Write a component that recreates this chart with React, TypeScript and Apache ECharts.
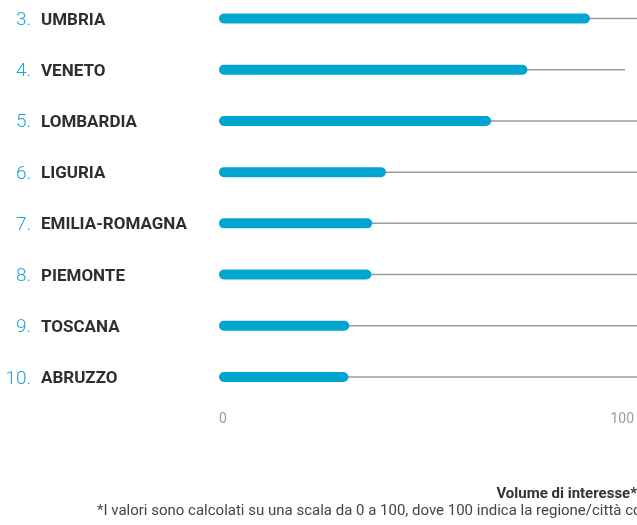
import React, { useEffect, useRef } from "react";
import * as echarts from "echarts";

const ranks = ["3.", "4.", "5.", "6.", "7.", "8.", "9.", "10."];
const regions = ["UMBRIA", "VENETO", "LOMBARDIA", "LIGURIA", "EMILIA-ROMAGNA", "PIEMONTE", "TOSCANA", "ABRUZZO"];
const values = [92, 76.5, 67.5, 41.4, 38, 37.8, 32.3, 32.1];
const trackEnds = [106, 100.7, 106, 106, 106, 106, 106, 106];
const xTicks = [0, 100];
const axisTitle = "Volume di interesse*";
const footnote = "*I valori sono calcolati su una scala da 0 a 100, dove 100 indica la regione/città con";

export default function App() {
  const ref = useRef<HTMLDivElement>(null);
  useEffect(() => {
    if (!ref.current) return;
    const chart = echarts.init(ref.current, null, { renderer: "svg" });
    const yBase = {
      type: "category",
      inverse: true,
      boundaryGap: false,
      axisLine: { show: false },
      axisTick: { show: false },
      splitLine: { show: false },
    };
    chart.setOption({
      animation: false,
      textStyle: { fontFamily: "Roboto" },
      grid: { left: 219, right: 13, top: 18.5, bottom: 148, containLabel: false },
      xAxis: {
        type: "value",
        min: xTicks[0],
        max: xTicks[1],
        interval: xTicks[1] - xTicks[0],
        axisLine: { show: false },
        axisTick: { show: false },
        splitLine: { show: false },
        axisLabel: {
          margin: 34,
          color: "#9a9a9a",
          fontSize: 14,
          fontFamily: "Roboto",
          alignMinLabel: "left",
          alignMaxLabel: "center",
        },
      },
      yAxis: [
        {
          ...yBase,
          data: ranks,
          position: "left",
          axisLabel: {
            align: "right",
            margin: 188,
            fontSize: 19,
            fontWeight: 300,
            color: "#1aa5d6",
            fontFamily: "Roboto",
          },
        },
        {
          ...yBase,
          data: regions,
          position: "left",
          offset: 0,
          axisLabel: {
            align: "left",
            margin: 178,
            fontSize: 17,
            fontWeight: "bold",
            color: "#2e2e2e",
            fontFamily: "Roboto",
          },
        },
      ],
      series: [
        {
          type: "bar",
          yAxisIndex: 1,
          data: trackEnds,
          barWidth: 1.5,
          clip: false,
          silent: true,
          itemStyle: { color: "#9a9a9a" },
          z: 1,
        },
        {
          type: "bar",
          yAxisIndex: 0,
          data: values,
          barWidth: 10,
          clip: false,
          itemStyle: { color: "#00a6d0", borderRadius: 5 },
          z: 2,
        },
      ],
      graphic: [
        {
          type: "text",
          right: 0,
          top: 485,
          style: { text: axisTitle, font: "bold 15px Roboto", fill: "#333" },
        },
        {
          type: "text",
          left: 97,
          top: 502,
          style: { text: footnote, font: "15px Roboto", fill: "#444" },
        },
      ],
    });
    return () => chart.dispose();
  }, []);
  return <div ref={ref} style={{ position: "fixed", left: 0, top: 0, width: 637, height: 525 }} />;
}
